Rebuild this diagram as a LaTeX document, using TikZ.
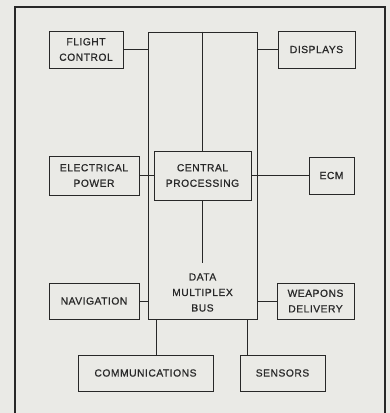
\documentclass[tikz,border=0pt]{standalone}
\usepackage{fontspec}
\setmainfont{Liberation Sans}[LetterSpace=5,FakeBold=0.7]
\usetikzlibrary{calc}
\definecolor{paper}{RGB}{234,234,230}
\definecolor{ink}{RGB}{40,40,40}
\begin{document}
\begin{tikzpicture}[x=1pt,y=-1pt,
  box/.style={draw=ink,line width=0.8pt,inner sep=0pt,align=center,
    font=\fontsize{10.3}{15.5}\selectfont,text=ink},
  wire/.style={draw=ink,line width=0.8pt}]
\fill[paper] (0,0) rectangle (390,413);
\useasboundingbox (0,0) rectangle (390,413);
\draw[ink,line width=2.2pt] (15,413) -- (15,7) -- (385,7) -- (385,413);
% bus
\node[box,minimum width=109pt,minimum height=287pt] (bus) at (202.5,175.5) {};
\node[box,draw=none] (bustext) at (202.5,292.5) {DATA\\MULTIPLEX\\BUS};
% boxes
\node[box,minimum width=74pt,minimum height=37pt] (fc) at (86,49.5) {FLIGHT\\CONTROL};
\node[box,minimum width=77pt,minimum height=37pt] (disp) at (316.5,49.5) {DISPLAYS};
\node[box,minimum width=90pt,minimum height=39pt] (ep) at (94,175.5) {ELECTRICAL\\POWER};
\node[box,fill=paper,minimum width=97pt,minimum height=49pt] (cp) at (202.5,175.5) {CENTRAL\\PROCESSING};
\node[box,minimum width=45pt,minimum height=37pt] (ecm) at (331.5,175.5) {ECM};
\node[box,minimum width=90pt,minimum height=36pt] (nav) at (94,301) {NAVIGATION};
\node[box,minimum width=77pt,minimum height=36pt] (wd) at (315.5,301) {WEAPONS\\DELIVERY};
\node[box,minimum width=135pt,minimum height=36pt] (comm) at (145.5,373) {COMMUNICATIONS};
\node[box,minimum width=85pt,minimum height=36pt] (sens) at (282.5,373) {SENSORS};
\coordinate (midend) at (202.5,263);
% connectors
\draw[wire] (fc.east) -- (fc.east -| bus.west);
\draw[wire] (bus.east |- disp.west) -- (disp.west);
\draw[wire] (ep.east) -- (cp.west);
\draw[wire] (cp.east) -- (ecm.west);
\draw[wire] (nav.east) -- (nav.east -| bus.west);
\draw[wire] (bus.east |- wd.west) -- (wd.west);
\draw[wire] (bus.north) -- (cp.north);
\draw[wire] (cp.south) -- (midend);
\draw[wire] ([xshift=9pt]bus.south west) -- ([xshift=9pt]bus.south west |- comm.north);
\draw[wire] ([xshift=-10pt]bus.south east) -- ([xshift=-10pt]bus.south east |- sens.north);
\end{tikzpicture}
\end{document}
